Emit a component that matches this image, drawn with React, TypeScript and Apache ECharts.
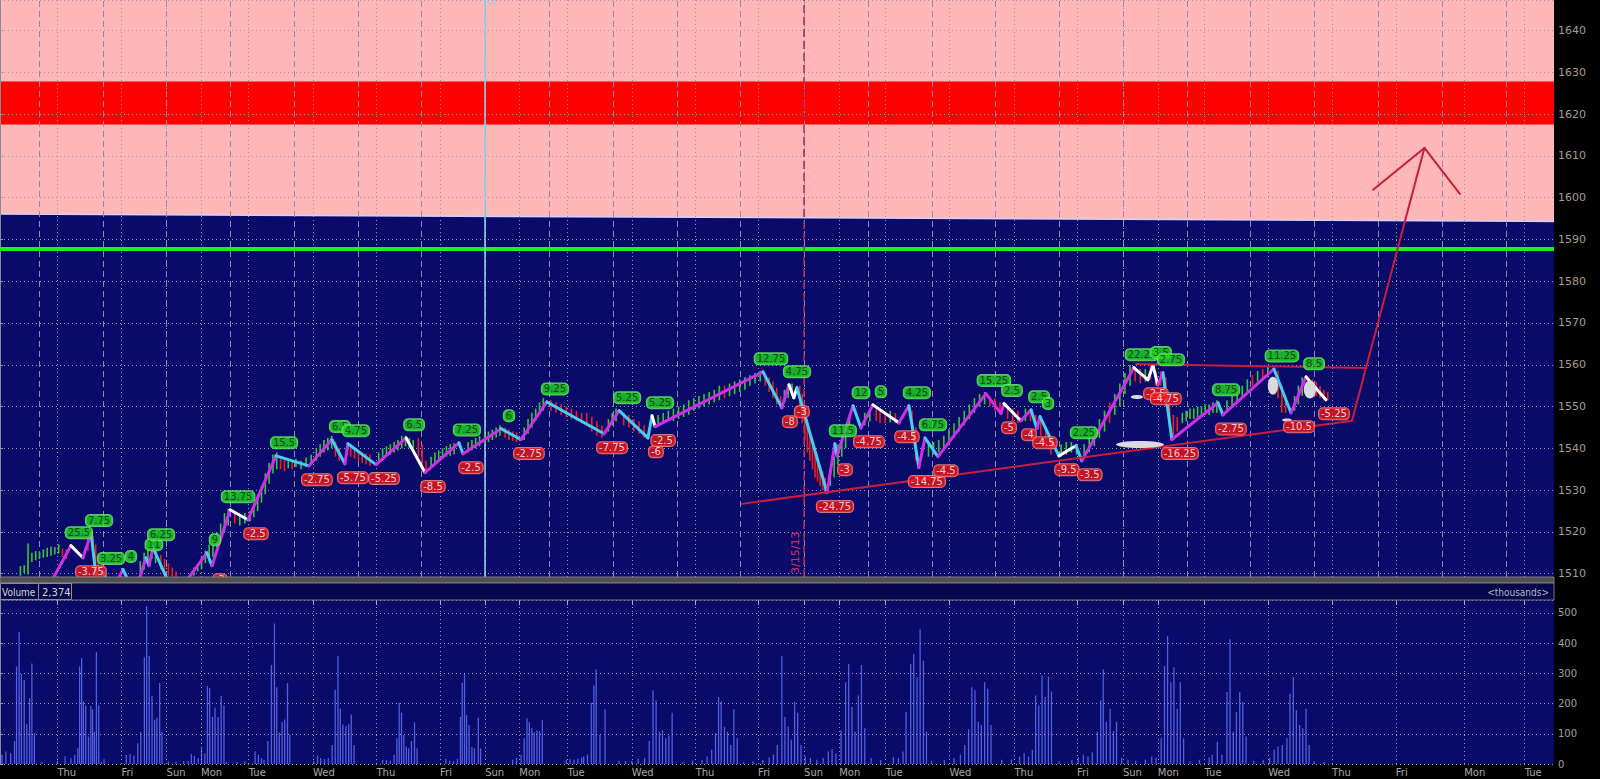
import React, { useEffect, useRef } from "react";
import * as echarts from "echarts";

// ---------------- data ----------------
// x values are hourly bar numbers counted from the left edge of the chart
const X_MAX = 609.2;
const PRICE_MIN = 1509.2;
const PRICE_MAX = 1647.3;
const VOLUME_MAX = 543;

const DAY_TICKS = [22.5, 47.6, 65.3, 78.8, 97.5, 122.7, 147.6, 172.5, 190.2, 203.6, 222.5, 247.7, 272.7, 297.2, 315.2, 329.0, 347.2, 372.2, 397.7, 422.2, 440.2, 453.9, 472.2, 497.2, 522.2, 547.2, 574.0, 597.7];
const DAY_NAMES = ["Thu", "Fri", "Sun", "Mon", "Tue", "Wed", "Thu", "Fri", "Sun", "Mon", "Tue", "Wed", "Thu", "Fri", "Sun", "Mon", "Tue", "Wed", "Thu", "Fri", "Sun", "Mon", "Tue", "Wed", "Thu", "Fri", "Mon", "Tue"];
const GRID_X = [15.3, 40.3, 65.3, 90.3, 115.3, 140.3, 165.3, 190.3, 215.3, 240.3, 265.3, 290.3, 315.3, 340.3, 365.3, 390.3, 415.3, 440.3, 465.3, 490.3, 515.3, 540.3, 565.3, 590.3];

const RESIST_EDGE = [0, 1596.1, 609.2, 1594.3];
const RED_ZONE = [1617.5, 1627.8];
const SUPPORT_LEVEL = 1587.8;
const LAST_PRICE = 1552.13;
const CYAN_MARK = 190.1;
const DATE_MARK = 315.2;

const PIVOT_X = [18.0, 27.8, 32.5, 35.7, 38.4, 40.4, 43.9, 48.2, 52.9, 57.2, 58.4, 60.0, 68.6, 81.1, 83.1, 90.2, 97.2, 108.2, 121.1, 130.1, 135.2, 136.4, 147.4, 159.2, 166.6, 179.9, 181.5, 196.4, 204.2, 214.4, 236.8, 242.7, 254.0, 255.6, 256.8, 299.1, 306.5, 309.3, 311.2, 312.4, 324.2, 327.3, 328.1, 334.4, 337.5, 342.2, 352.4, 356.3, 360.2, 362.6, 367.7, 386.5, 392.4, 393.6, 400.2, 404.2, 406.5, 407.7, 415.1, 421.8, 424.1, 444.5, 450.0, 452.0, 453.9, 455.9, 459.4, 477.5, 479.4, 499.4, 506.1, 512.0, 519.8];
const PIVOT_P = [1505.7, 1516.7, 1513.8, 1519.6, 1505.7, 1510.5, 1505.7, 1511.0, 1505.0, 1513.8, 1511.9, 1516.2, 1504.5, 1515.0, 1511.9, 1525.3, 1522.9, 1538.2, 1535.8, 1542.1, 1536.3, 1541.1, 1536.1, 1542.5, 1534.2, 1541.3, 1538.7, 1544.7, 1542.1, 1551.1, 1543.5, 1549.0, 1542.5, 1547.8, 1545.2, 1558.3, 1549.7, 1555.2, 1552.1, 1554.5, 1529.4, 1541.1, 1538.2, 1550.2, 1544.9, 1550.4, 1546.1, 1550.2, 1535.4, 1542.5, 1538.0, 1553.1, 1548.3, 1550.7, 1546.6, 1549.2, 1544.7, 1547.6, 1538.2, 1540.6, 1537.0, 1559.3, 1556.4, 1559.8, 1555.2, 1558.1, 1542.1, 1550.9, 1548.0, 1559.0, 1548.5, 1557.1, 1551.6];
const PIVOT_LABEL = ["", "25.5", "-3.75", "7.75", "", "3.25", "", "4", "", "11", "", "6.25", "", "9", "-3", "13.75", "-2.5", "15.5", "-2.75", "6.5", "-5.75", "4.75", "-5.25", "6.5", "-8.5", "7.25", "-2.5", "6", "-2.75", "9.25", "-7.75", "5.25", "-6", "5.25", "-2.5", "12.75", "-8", "4.75", "-3", "", "-24.75", "11.5", "-3", "12", "-4.75", "5", "-4.5", "4.25", "-14.75", "6.75", "-4.5", "15.25", "-5", "2.5", "-4", "2.5", "-4.5", "3", "-9.5", "2.25", "-3.5", "22.25", "-2.5", "3.5", "-4.75", "2.75", "-16.25", "8.75", "-2.75", "11.25", "-10.5", "8.5", "-5.25"];
// m = magenta, c = cyan, w = white, one letter per zigzag leg
const SEG_KIND = "mwmcmcmcmcmcmcmwmcmcmcmwmcmcmcmccwmcmwwcmcmcmwmcmcmmmwmcmcwcmwwwmcmcmcmw";

// [bar, low, high, direction]
const PRICE_BARS = [
  [8, 1509.5, 1511.8, 1], [9.5, 1510.2, 1512, 1], [11, 1509.8, 1517.2, 1], [12.5, 1512.8, 1515, 1], [14, 1513.2, 1515.4, 1], [15.5, 1513.5, 1515.2, 1], [17, 1513.8, 1515.8, 1], [18.5, 1514, 1516.2, 1], [20, 1514.3, 1516.5, 1], [21.5, 1514.6, 1516.4, 1], [23, 1514.8, 1517, 1], [24.5, 1514, 1516, -1], [26, 1513.5, 1515.8, -1],
  [34.5, 1515.5, 1518.5, -1], [36.5, 1514, 1519, -1], [37.5, 1512, 1517, -1], [38.5, 1509.5, 1514, -1],
  [55, 1509.5, 1513, 1], [56.5, 1511, 1515, 1], [58, 1512, 1516, 1], [59.5, 1513.5, 1517, 1], [61, 1512.5, 1516, 1], [63, 1511, 1514.5, -1], [64.5, 1510, 1513.5, -1], [66, 1509.5, 1512.5, -1], [67.5, 1509.3, 1511.5, -1], [69, 1509.2, 1510.5, -1],
  [76, 1509.5, 1511.5, 1], [77.5, 1510.5, 1512.5, 1], [79, 1511, 1514, 1], [80.5, 1512.5, 1515.5, 1], [82, 1513, 1517, 1], [83.5, 1514, 1518, 1], [85, 1516, 1520, 1], [86.5, 1518, 1522, 1], [88, 1520, 1524.5, 1], [89.5, 1521.5, 1525.5, 1],
  [92, 1522, 1524.5, -1], [94, 1521.5, 1524, 1], [96, 1522, 1524.5, 1], [98, 1522.5, 1525, 1], [99.5, 1523.5, 1527, 1], [101, 1525, 1529, 1], [102.5, 1527, 1531, 1], [104, 1529, 1534, 1], [105.5, 1531.5, 1536.5, 1], [107, 1534, 1538.5, 1], [108.5, 1535, 1539, 1],
  [110, 1535, 1537.5, -1], [111.5, 1534.5, 1537.2, -1], [113, 1535.2, 1537.5, 1], [114.5, 1535, 1537, -1], [116, 1535.5, 1537.5, 1], [118, 1535, 1537, 1], [120, 1535.5, 1537.8, 1],
  [122, 1536, 1538.5, 1], [124, 1537, 1540, 1], [125.5, 1538, 1541, 1], [127, 1539, 1542, 1], [128.5, 1539.5, 1542.5, 1], [130, 1540, 1543, 1], [131.5, 1538, 1541.5, -1], [133, 1537, 1540, -1],
  [137.5, 1538, 1541, -1], [139, 1537.5, 1540, -1], [140.5, 1537, 1539.5, -1], [142, 1536.5, 1539, -1], [143.5, 1536.2, 1538.8, -1], [145, 1535.8, 1538.5, -1],
  [148.5, 1536.5, 1539, 1], [150, 1537.2, 1540, 1], [151.5, 1538, 1540.5, 1], [153, 1538.5, 1541, 1], [154.5, 1539, 1541.5, 1], [156, 1539.5, 1542, 1], [157.5, 1540, 1543, 1], [159, 1540.5, 1543, 1], [160.5, 1540, 1542.5, 1], [162, 1540, 1542, 1],
  [164, 1538, 1542.5, -1], [165.5, 1535, 1541, -1], [167, 1534.5, 1537, -1],
  [169, 1535.5, 1538, 1], [170.5, 1536.5, 1539, 1], [172, 1537, 1539.5, 1], [173.5, 1537.5, 1540, 1], [175, 1538, 1540.5, 1], [176.5, 1538.2, 1541, 1], [178, 1538.5, 1541.2, 1],
  [183.5, 1539, 1541.5, 1], [185, 1539.5, 1542, 1], [186.5, 1540, 1542.5, 1], [188, 1540.5, 1543, 1], [190, 1541, 1543.5, 1], [191.5, 1541.5, 1544, 1], [193, 1542, 1544.5, 1], [194.5, 1542.5, 1545, 1], [196, 1543, 1545.5, 1],
  [198, 1542.5, 1545, -1], [199.5, 1542, 1544.5, -1], [201, 1541.8, 1544, -1], [202.5, 1541.5, 1543.8, -1],
  [205.5, 1542, 1545, 1], [207, 1543.5, 1547, 1], [208.5, 1545, 1548.5, 1], [210, 1546.5, 1549.5, 1], [211.5, 1548, 1551, 1], [213, 1549, 1552, 1],
  [216, 1549, 1551.5, -1], [218, 1548.5, 1551, -1], [220, 1548, 1550.5, -1], [222, 1547.5, 1550, -1], [224, 1547, 1549.5, -1], [226, 1546.5, 1549, -1], [228, 1546, 1548.5, -1], [230, 1545.5, 1548.5, -1], [232, 1544, 1547.5, -1], [234, 1543, 1546.5, -1], [236, 1542.5, 1545.5, -1],
  [238.5, 1544, 1547, 1], [240, 1545.5, 1548.5, 1], [241.5, 1546.5, 1549.5, 1],
  [244.5, 1545.5, 1548.5, -1], [246.5, 1545, 1548, -1], [248.5, 1544, 1547, -1], [250.5, 1543.5, 1546.5, -1], [252.5, 1542.5, 1545.5, -1],
  [258, 1545.5, 1548, 1], [260, 1546, 1548.5, 1], [262, 1546.5, 1549, 1], [264, 1546.5, 1549.5, 1], [266, 1547, 1550, 1], [268, 1547.5, 1550.5, 1], [270, 1548, 1551.5, 1], [272, 1549, 1552, 1], [274, 1549.5, 1552.5, 1], [276, 1550, 1553, 1], [278, 1550.5, 1553.5, 1], [280, 1551, 1554, 1], [282, 1551.5, 1555, 1], [284, 1552, 1555, -1], [286, 1552.5, 1555.5, 1], [288, 1553, 1556, 1], [290, 1553.5, 1556.5, 1], [292, 1554, 1557, 1], [294, 1555, 1557.5, 1], [296, 1555.5, 1558, 1], [298, 1556, 1558.5, 1],
  [300, 1555, 1558, -1], [301.5, 1553.5, 1557, -1], [303, 1552, 1556, -1], [304.5, 1550.5, 1554.5, -1], [306, 1549.5, 1552.5, -1],
  [307.5, 1551, 1554, 1], [309, 1552, 1555.5, 1], [310.5, 1552.5, 1555.5, 1],
  [313.5, 1550, 1555, -1], [314.5, 1546, 1553, -1], [315.5, 1542, 1550, -1], [316.5, 1539, 1547, -1], [317.5, 1537, 1544, -1], [318.5, 1535, 1541, -1], [319.5, 1533, 1539, -1], [320.5, 1532, 1537, -1], [321.5, 1531, 1535.5, -1], [322.5, 1530, 1534.5, -1], [323.5, 1529.5, 1533, -1],
  [325.5, 1531, 1535, 1], [327, 1533, 1538, 1], [328.5, 1536, 1541, 1], [330, 1538, 1543, 1], [331.5, 1540, 1545, 1], [333, 1543, 1548, 1],
  [339, 1545.5, 1548.5, 1], [341, 1546.5, 1549.5, 1], [343.5, 1546.5, 1549.5, -1], [345, 1546, 1549, -1], [347, 1546, 1548.8, -1], [349, 1546.2, 1549, 1], [351, 1546, 1548.5, -1],
  [357.5, 1543, 1549, -1], [359, 1537, 1545, -1],
  [364, 1538, 1541, 1], [366, 1538.5, 1541.5, 1], [368, 1539, 1542, 1], [370, 1540, 1543, 1], [372, 1541, 1544.5, 1], [374, 1542.5, 1546, 1], [376, 1544, 1547.5, 1], [378, 1545.5, 1549, 1], [380, 1547, 1550.5, 1], [382, 1548.5, 1552, 1], [384, 1550, 1553, 1], [386, 1550.5, 1553.5, 1],
  [388, 1550, 1552.5, -1], [390, 1549, 1552, -1], [392, 1548.5, 1551, -1], [395, 1547, 1550, -1], [397, 1546.5, 1549.5, -1], [399, 1546, 1549, -1], [402, 1546.5, 1549.5, 1], [404, 1546.5, 1549, -1], [406, 1544, 1548, -1], [408, 1543, 1547, -1], [410, 1540.5, 1545, -1], [412, 1538.5, 1542.5, -1],
  [416, 1538, 1541, 1], [418, 1538.5, 1541.5, 1], [420, 1539, 1541.5, 1], [422, 1538.5, 1541, 1], [425, 1537.5, 1541, 1], [427, 1539, 1543, 1], [429, 1540.5, 1545, 1], [431, 1542.5, 1547, 1], [433, 1544, 1549, 1], [435, 1546, 1551, -1], [437, 1548, 1553, 1], [439, 1550, 1555.5, 1], [441, 1553, 1558, 1], [443, 1555, 1560, 1],
  [445, 1556, 1559.5, -1], [447, 1555.5, 1559, -1], [449, 1556, 1559, 1], [451, 1556.5, 1560, -1], [453, 1555, 1558.5, -1], [455, 1555, 1558.5, -1], [457, 1550, 1557, -1], [458.5, 1545, 1552, -1], [460, 1543, 1548, -1], [461.5, 1544, 1547.5, -1],
  [463.5, 1546, 1548.5, 1], [465, 1546.5, 1549, 1], [466.5, 1547, 1549.5, 1], [468, 1547, 1549.5, 1], [469.5, 1547.5, 1550, 1], [471, 1547.5, 1550, 1], [472.5, 1548, 1550.5, 1], [474, 1548, 1550.5, 1], [475.5, 1548.5, 1551, 1], [477, 1548.5, 1551.5, 1],
  [481, 1549, 1551.5, 1], [483, 1550, 1552.5, 1], [485, 1551, 1553.5, 1], [487, 1552, 1555, 1], [489, 1553.5, 1556.5, 1], [491, 1555, 1557.5, -1], [493, 1556, 1558.5, 1], [495, 1556.5, 1559, -1], [497, 1557, 1559.5, 1],
  [501, 1552, 1558.5, -1], [502.5, 1548.5, 1555, -1], [504, 1548.5, 1552, -1], [507.5, 1549, 1552.5, 1], [509, 1550.5, 1555, 1], [510.5, 1552.5, 1557, 1], [513, 1554, 1557, -1], [514.5, 1553, 1556.5, -1], [516, 1552.5, 1556, -1], [517.5, 1552, 1555, -1], [519, 1551.5, 1554, -1], [520.5, 1551.5, 1553.5, -1],
];

// [bar, volume in thousands]
const VOLUME = [
  [0.8, 31], [2.3, 41], [4.2, 36], [5.7, 76], [6.5, 323], [7.5, 437], [8.4, 298], [9.5, 278], [10.5, 132], [11.6, 218], [12.5, 333], [13.5, 102], [16.5, 7],
  [22.5, 11], [25.5, 25], [27.8, 20], [29.3, 31], [30.5, 52], [31.2, 323], [32, 351], [32.7, 207], [33.6, 194], [34.7, 91], [35.6, 192], [36.3, 181], [37, 107], [37.8, 371], [38.7, 194], [39.8, 7], [40.8, 16],
  [49.5, 31], [51, 33], [52.5, 28], [54, 69], [55.2, 107], [56.6, 353], [57.5, 522], [58.5, 358], [59.6, 225], [60.6, 145], [61.5, 153], [62.6, 268], [63.5, 107],
  [66, 8], [69, 8], [72, 10], [73.8, 10],
  [75, 33], [76.2, 27], [77.7, 20], [79, 52], [80.3, 36], [81.3, 258], [82.2, 251], [83.3, 156], [84.3, 186], [85.5, 156], [86.7, 225], [87.8, 194], [88.8, 7],
  [93, 7], [96, 9],
  [100, 41], [101.3, 31], [102.5, 20], [103.5, 14], [105, 76], [106.4, 328], [107.6, 465], [108.5, 254], [109.5, 104], [110.6, 138], [111.6, 147], [112.7, 268], [113.6, 98],
  [123, 9], [124.5, 28], [125.7, 20], [127.2, 16], [128.7, 20],
  [130.2, 63], [131.4, 247], [132.5, 358], [133.4, 183], [134.4, 131], [135.6, 126], [136.7, 132], [137.7, 164], [138.8, 63],
  [150, 14], [151.5, 14], [153, 11],
  [154.5, 31], [155.6, 85], [156.5, 203], [157.4, 170], [158.3, 96], [159.3, 58], [160.2, 52], [161.3, 76], [162.5, 138], [163.5, 52],
  [174.8, 17], [176.3, 11], [177.8, 9], [179.3, 17],
  [180.5, 156], [181.2, 269], [182.1, 298], [182.9, 162], [183.9, 129], [185, 56], [186, 52], [187.5, 153], [188.4, 52],
  [201, 14], [202.5, 20],
  [204.3, 31], [205.5, 85], [206.6, 151], [207.5, 138], [208.5, 118], [209.4, 105], [210.5, 112], [211.5, 109], [212.6, 145],
  [222, 14], [223.5, 16], [225, 14], [226.5, 17], [228, 22],
  [228.8, 25], [230.3, 31], [231.8, 203], [232.8, 260], [233.7, 314], [235.2, 96], [237.2, 181],
  [242.7, 10], [245.2, 10], [247.7, 10], [250.2, 17], [252.7, 20],
  [254.5, 76], [256, 244], [257.2, 211], [258.5, 107], [259.7, 112], [261, 85], [262.2, 94], [263.5, 170],
  [267.7, 7], [271.5, 11], [275.2, 14],
  [277.2, 25], [279, 47], [280.5, 102], [281.7, 222], [282.7, 207], [284, 123], [285.2, 107], [286.5, 63], [287.7, 181], [289, 85],
  [291.5, 7], [295.2, 9], [299, 14],
  [301.5, 22], [303.2, 31], [304.7, 63], [306.5, 358], [307.7, 156], [309, 123], [310.2, 80], [311.5, 205], [312.7, 170], [314, 63], [315.7, 25],
  [317.7, 20], [320.2, 14], [322.7, 20],
  [324.7, 41], [326.2, 49], [327.7, 36], [329.7, 112], [331.5, 271], [332.7, 331], [334, 189], [335.2, 107], [336.5, 227], [337.7, 328], [339, 118],
  [341.5, 20], [345.2, 14], [350.2, 22],
  [352.2, 20], [354, 41], [355.2, 173], [357, 331], [358.2, 364], [359.5, 287], [360.7, 446], [362, 342], [363.2, 107],
  [365.2, 11], [370.2, 14], [374, 20],
  [376.5, 31], [378.2, 63], [379.7, 116], [381, 254], [382.2, 244], [383.5, 140], [384.7, 129], [386, 271], [387.2, 249], [388.5, 129],
  [392.7, 14], [396.5, 14], [399.7, 25],
  [401.5, 36], [403.2, 25], [404.7, 47], [406, 227], [407.2, 194], [408.5, 293], [409.7, 222], [411, 289], [412.2, 240],
  [415.2, 9], [420.2, 14], [422.7, 22],
  [424.7, 31], [426.5, 25], [428.2, 39], [430.2, 107], [431.5, 211], [432.5, 314], [433.7, 140], [435.2, 183], [436.5, 109], [437.7, 140],
  [439.7, 20], [442.2, 14], [445.2, 11],
  [449, 14], [451.5, 25], [453.2, 20], [455.2, 85], [456.5, 325], [457.7, 424], [459, 271], [460.2, 320], [461.5, 183], [462.7, 271], [464, 85],
  [466.5, 9], [470.2, 14], [474, 22],
  [475.2, 31], [477.2, 74], [479, 31], [481, 238], [482.2, 413], [483.5, 107], [484.7, 173], [486, 238], [487.2, 205], [488.5, 91],
  [491.5, 11], [495.2, 14],
  [497.7, 20], [499.5, 47], [501, 58], [502.7, 63], [504.5, 85], [505.7, 233], [507, 287], [508.2, 178], [509.5, 129], [510.7, 118], [512, 183], [513.2, 63],
  [515.2, 9], [519, 7],
];

// [bar1, price1, bar2, price2]
const TREND_LINES = [
  [290.8, 1526.7, 530.0, 1546.6],
  [445.3, 1560.2, 535.7, 1559.2],
  [530.0, 1546.6, 558.4, 1611.9],
  [538.3, 1601.9, 558.4, 1611.9],
  [558.4, 1611.9, 572.3, 1600.9],
];

// [center bar, center price, half width (bars), half height (points)]
const ELLIPSES = [
  [446.9, 1540.9, 9.4, 0.84],
  [445.7, 1552.3, 2.4, 0.48],
  [499.0, 1555.0, 2.0, 2.15],
  [513.5, 1554.1, 2.4, 2.15],
  [504.5, 1546.8, 2.0, 0.36],
];

// ---------------- styling ----------------
const FONT = '"DejaVu Sans", Verdana, sans-serif';
const COND = '"DejaVu Sans Condensed", "Liberation Sans Narrow", "DejaVu Sans", sans-serif';
const NAVY = "#0a0a6a";
const PINK = "#ffb7b7";
const SEG_COLORS: Record<string, string> = { m: "#cf2ee8", c: "#44cfee", w: "#ffffff" };
const TREND_COLOR = "#c81e3c";
const GRID_LINE = "#9a9ab0";

function buildOption() {
  const segments = [];
  for (let i = 0; i < PIVOT_X.length - 1; i++) {
    segments.push([PIVOT_X[i], PIVOT_P[i], PIVOT_X[i + 1], PIVOT_P[i + 1]]);
  }
  const highs: any[] = [];
  const lows: any[] = [];
  PIVOT_LABEL.forEach((t, i) => {
    if (!t) return;
    const item = { value: [PIVOT_X[i], PIVOT_P[i]], name: t };
    if (t.startsWith("-")) lows.push(item);
    else highs.push(item);
  });

  const labelBase = {
    show: true,
    position: "inside",
    formatter: "{b}",
    fontSize: 10,
    fontFamily: FONT,
    padding: [1, 2, 0, 2],
    borderRadius: 4,
    borderWidth: 1,
  };

  const segRender = (colorOf: (i: number) => string, width: number) => (params: any, api: any) => {
    const a = api.coord([api.value(0), api.value(1)]);
    const b = api.coord([api.value(2), api.value(3)]);
    return {
      type: "line",
      shape: { x1: a[0], y1: a[1], x2: b[0], y2: b[1] },
      style: { stroke: colorOf(params.dataIndex), lineWidth: width, lineCap: "round" },
    };
  };

  return {
    animation: false,
    backgroundColor: "#000000",
    grid: [
      { left: 0, top: 0, width: 1554, height: 577, show: true, backgroundColor: NAVY, borderWidth: 0, containLabel: false, outerBoundsMode: "none" },
      { left: 0, top: 600, width: 1554, height: 164, show: true, backgroundColor: NAVY, borderWidth: 0, containLabel: false, outerBoundsMode: "none" },
    ],
    xAxis: [
      {
        type: "value", gridIndex: 0, min: 0, max: X_MAX, z: 3,
        axisLine: { show: false }, axisLabel: { show: false }, splitLine: { show: false },
        axisTick: { show: true, inside: true, length: 5, customValues: GRID_X, lineStyle: { color: "#cfcfd8" } },
      },
      {
        type: "value", gridIndex: 1, min: 0, max: X_MAX, position: "bottom",
        axisLine: { show: false }, axisTick: { show: false }, splitLine: { show: false },
        axisLabel: {
          show: true, customValues: DAY_TICKS, color: "#a8a8a8", fontSize: 10, fontFamily: FONT, margin: 3, align: "left",
          formatter: (v: number) => {
            const k = DAY_TICKS.findIndex((t) => Math.abs(t - v) < 1e-6);
            return k >= 0 ? DAY_NAMES[k] : "";
          },
        },
      },
      {
        type: "value", gridIndex: 1, min: 0, max: X_MAX, position: "top", z: 3,
        axisLine: { show: false }, axisLabel: { show: false }, splitLine: { show: false },
        axisTick: { show: true, inside: true, length: 5, customValues: DAY_TICKS, lineStyle: { color: "#b0b0b8" } },
      },
    ],
    yAxis: [
      {
        type: "value", gridIndex: 0, position: "right", min: PRICE_MIN, max: PRICE_MAX,
        splitNumber: 14, minInterval: 10, maxInterval: 10, z: 3,
        axisLine: { show: true, lineStyle: { color: "#8a8a9a" } },
        axisTick: { show: true, length: 3, lineStyle: { color: "#9a9a9a" } },
        axisLabel: {
          color: "#a89b8c", fontSize: 11, fontFamily: FONT, margin: 4, showMinLabel: false, showMaxLabel: false,
          formatter: (v: number) => String(Math.round(v)),
        },
        splitLine: { show: true, lineStyle: { color: GRID_LINE, type: [1, 3], width: 1 } },
      },
      {
        type: "value", gridIndex: 1, position: "right", min: 0, max: VOLUME_MAX, interval: 100, z: 3,
        axisLine: { show: true, lineStyle: { color: "#8a8a9a" } },
        axisTick: { show: true, length: 3, lineStyle: { color: "#9a9a9a" } },
        axisLabel: { color: "#a0a0a0", fontSize: 10, fontFamily: FONT, margin: 4, showMaxLabel: false, formatter: (v: number) => String(Math.round(v)) },
        splitLine: { show: true, lineStyle: { color: GRID_LINE, type: [1, 3], width: 1 } },
      },
    ],
    series: [
      {
        name: "resistance", type: "custom", xAxisIndex: 0, yAxisIndex: 0, z: 1, silent: true,
        data: [RESIST_EDGE], encode: { x: [0, 2], y: [1, 3] },
        renderItem: (params: any, api: any) => {
          const cs = params.coordSys;
          const a = api.coord([api.value(0), api.value(1)]);
          const b = api.coord([api.value(2), api.value(3)]);
          return {
            type: "group",
            children: [
              { type: "polygon", shape: { points: [[a[0], a[1]], [b[0], b[1]], [b[0], cs.y], [a[0], cs.y]] }, style: { fill: PINK } },
              { type: "line", shape: { x1: a[0], y1: a[1], x2: b[0], y2: b[1] }, style: { stroke: "#d4d0ff", lineWidth: 1.5 } },
            ],
          };
        },
      },
      {
        name: "red zone", type: "custom", xAxisIndex: 0, yAxisIndex: 0, z: 1, silent: true,
        data: [[0, RED_ZONE[0], RED_ZONE[1]]], encode: { x: 0, y: [1, 2] },
        renderItem: (params: any, api: any) => {
          const cs = params.coordSys;
          const lo = api.coord([0, api.value(1)])[1];
          const hi = api.coord([0, api.value(2)])[1];
          return { type: "rect", shape: { x: cs.x, y: hi, width: cs.width, height: lo - hi }, style: { fill: "#ff0000" } };
        },
      },
      {
        name: "price grid", type: "line", xAxisIndex: 0, yAxisIndex: 0, z: 3, data: [], silent: true,
        markLine: {
          silent: true, symbol: ["none", "none"], animation: false, label: { show: false },
          data: [
            ...GRID_X.map((v) => ({ xAxis: v, lineStyle: { color: "#8f8aa6", type: [6, 4], width: 1 } })),
            ...DAY_TICKS.map((v) => ({ xAxis: v, lineStyle: { color: GRID_LINE, type: [1, 3], width: 1 } })),
          ],
        },
      },
      {
        name: "levels", type: "line", xAxisIndex: 0, yAxisIndex: 0, z: 4, data: [], silent: true,
        markLine: {
          silent: true, symbol: ["none", "none"], animation: false,
          data: [
            { yAxis: SUPPORT_LEVEL, lineStyle: { color: "#22ec22", width: 4, type: "solid" }, label: { show: false } },
            { xAxis: CYAN_MARK, lineStyle: { color: "#86d6ee", width: 1.5, type: "solid" }, label: { show: false } },
            {
              xAxis: DATE_MARK, lineStyle: { color: "#b0284c", width: 1.5, type: [8, 4] },
              label: { show: true, position: "insideStartTop", formatter: "3/15/13", color: "#dc3058", fontSize: 11, fontFamily: FONT, distance: 3 },
            },
            {
              yAxis: LAST_PRICE, lineStyle: { opacity: 0, width: 0 },
              label: {
                show: true, position: "end", formatter: String(LAST_PRICE), color: "#ffffff", fontSize: 10, fontFamily: FONT,
                backgroundColor: "#e3121c", padding: [2, 2, 1, 2], borderRadius: 2, distance: 1,
              },
            },
          ],
        },
      },
      {
        name: "volume", type: "bar", xAxisIndex: 1, yAxisIndex: 1, z: 2, barWidth: 1.3, silent: true,
        itemStyle: { color: "#4f5fe0" },
        data: VOLUME,
        markLine: {
          silent: true, symbol: ["none", "none"], animation: false, label: { show: false },
          data: DAY_TICKS.map((v) => ({ xAxis: v, lineStyle: { color: GRID_LINE, type: [1, 3], width: 1 } })),
        },
      },
      {
        name: "price", type: "custom", xAxisIndex: 0, yAxisIndex: 0, z: 5, clip: true, silent: true,
        data: PRICE_BARS, encode: { x: 0, y: [1, 2] },
        renderItem: (params: any, api: any) => {
          const x = api.value(0);
          const t = api.coord([x, api.value(2)]);
          const b = api.coord([x, api.value(1)]);
          return {
            type: "rect",
            shape: { x: t[0] - 0.8, y: t[1], width: 1.6, height: Math.max(1, b[1] - t[1]) },
            style: { fill: api.value(3) > 0 ? "#36c636" : "#ee1e1e" },
          };
        },
      },
      {
        name: "zigzag", type: "custom", xAxisIndex: 0, yAxisIndex: 0, z: 6, clip: true, silent: true,
        data: segments, encode: { x: [0, 2], y: [1, 3] },
        renderItem: segRender((i) => SEG_COLORS[SEG_KIND[i]] || "#ffffff", 3),
      },
      {
        name: "trend", type: "custom", xAxisIndex: 0, yAxisIndex: 0, z: 7, clip: true, silent: true,
        data: TREND_LINES, encode: { x: [0, 2], y: [1, 3] },
        renderItem: segRender(() => TREND_COLOR, 2),
      },
      {
        name: "marks", type: "custom", xAxisIndex: 0, yAxisIndex: 0, z: 7, clip: true, silent: true,
        data: ELLIPSES, encode: { x: 0, y: 1 },
        renderItem: (params: any, api: any) => {
          const c = api.coord([api.value(0), api.value(1)]);
          const e = api.coord([api.value(0) + api.value(2), api.value(1) + api.value(3)]);
          return {
            type: "ellipse",
            shape: { cx: c[0], cy: c[1], rx: Math.abs(e[0] - c[0]), ry: Math.abs(c[1] - e[1]) },
            style: { fill: "#d9d9de" },
          };
        },
      },
      {
        name: "swing highs", type: "scatter", xAxisIndex: 0, yAxisIndex: 0, z: 9, symbolSize: 1, silent: true,
        itemStyle: { color: "transparent" },
        data: highs,
        label: { ...labelBase, offset: [8, -13], color: "#062806", backgroundColor: "#21d721", borderColor: "#74f074" },
      },
      {
        name: "swing lows", type: "scatter", xAxisIndex: 0, yAxisIndex: 0, z: 9, symbolSize: 1, silent: true,
        itemStyle: { color: "transparent" },
        data: lows,
        label: { ...labelBase, offset: [8, 14], color: "#ffffff", backgroundColor: "#ec1616", borderColor: "#ff9090" },
      },
    ],
    graphic: [
      { type: "rect", id: "sep", z: 100, silent: true, shape: { x: 0, y: 577, width: 1554, height: 6 }, style: { fill: "#505050", stroke: "#7c7c7c", lineWidth: 1 } },
      { type: "rect", id: "hdr", z: 100, silent: true, shape: { x: 0, y: 583, width: 1554, height: 17 }, style: { fill: "#06064c", stroke: "#7a7a7a", lineWidth: 1 } },
      { type: "rect", id: "vbox", z: 101, silent: true, shape: { x: 0.5, y: 583.5, width: 38, height: 16 }, style: { fill: "none", stroke: "#8c8c8c", lineWidth: 1 } },
      { type: "rect", id: "nbox", z: 101, silent: true, shape: { x: 38.5, y: 583.5, width: 33, height: 16 }, style: { fill: "none", stroke: "#8c8c8c", lineWidth: 1 } },
      { type: "text", id: "vtxt", z: 102, silent: true, x: 2, y: 592, style: { text: "Volume", fill: "#d4d4d4", font: `10px ${COND}`, textVerticalAlign: "middle", verticalAlign: "middle" } },
      { type: "text", id: "ntxt", z: 102, silent: true, x: 42, y: 592, style: { text: "2,374", fill: "#d4d4d4", font: `10px ${FONT}`, textVerticalAlign: "middle", verticalAlign: "middle" } },
      { type: "text", id: "ttxt", z: 102, silent: true, x: 1549, y: 592, style: { text: "<thousands>", fill: "#b8b8b8", font: `10px ${COND}`, textAlign: "right", align: "right", textVerticalAlign: "middle", verticalAlign: "middle" } },
    ],
  };
}

export default function App() {
  const ref = useRef<HTMLDivElement>(null);
  useEffect(() => {
    if (!ref.current) return;
    const chart = echarts.init(ref.current, undefined, { renderer: "svg" });
    chart.setOption(buildOption() as any);
    const px = chart.convertToPixel({ xAxisIndex: 0 }, CYAN_MARK) as unknown as number;
    if (typeof px === "number" && isFinite(px)) {
      chart.setOption({
        graphic: [
          {
            type: "text", id: "cyanDate", z: 50, silent: true, x: px + 6, y: -27, rotation: -Math.PI / 2,
            style: { text: "3/8/13", fill: "#7fd4ea", font: `10px ${FONT}`, textVerticalAlign: "middle", verticalAlign: "middle" },
          },
        ],
      } as any);
    }
    return () => chart.dispose();
  }, []);
  return (
    <div
      ref={ref}
      style={{ position: "fixed", left: 0, top: 0, width: "1600px", height: "779px", background: "#000" }}
    />
  );
}
